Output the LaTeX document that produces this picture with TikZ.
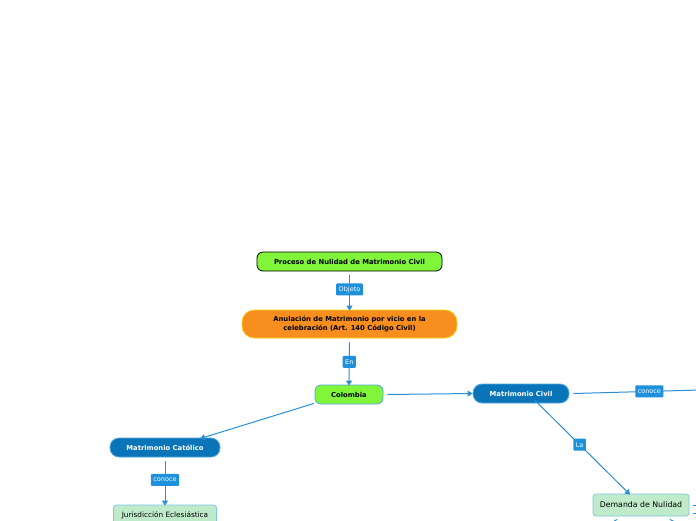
\documentclass[tikz,border=0pt]{standalone}
\usepackage{fontspec}
\setmainfont{DejaVu Sans}
\usetikzlibrary{arrows.meta}
\definecolor{lineblue}{HTML}{2B8FD6}
\definecolor{labelblue}{HTML}{1E90DC}
\definecolor{darkblue}{HTML}{0975B8}
\definecolor{darkborder}{HTML}{4FA6E0}
\definecolor{limegreen}{HTML}{80F53A}
\definecolor{orangefill}{HTML}{F78E1E}
\definecolor{yellowborder}{HTML}{F5D61B}
\definecolor{palegreen}{HTML}{C0EBCB}
\definecolor{paleborder}{HTML}{7EC4E8}
\tikzset{
  base/.style={align=center, inner sep=0pt, font=\fontsize{6.8}{8.2}\selectfont\bfseries},
  greennode/.style={base, fill=limegreen, draw=black, line width=0.8pt, rounded corners=6pt},
  colnode/.style={base, fill=limegreen, draw=darkborder, line width=0.8pt, rounded corners=6pt},
  orangenode/.style={base, fill=orangefill, draw=yellowborder, line width=0.8pt, rounded corners=12pt},
  bluenode/.style={base, fill=darkblue, draw=darkborder, line width=0.8pt, rounded corners=9pt, text=white},
  palenode/.style={align=center, inner sep=0pt, fill=palegreen, draw=paleborder, line width=0.8pt, rounded corners=3pt},
  lbl/.style={fill=labelblue, text=white, inner xsep=2.5pt, minimum height=12pt, inner ysep=0pt, rounded corners=1pt, font=\fontsize{6.5}{7}\selectfont},
  conn/.style={draw=lineblue, line width=1pt},
  arr/.style={conn, -{Triangle[width=6pt,length=5pt]}},
}
\begin{document}
\begin{tikzpicture}[x=1pt,y=-1pt]
\useasboundingbox (0,0) rectangle (696,520);
\clip (0,0) rectangle (696,520);
\node[greennode, minimum width=185pt, minimum height=19pt] (proc) at (349.5,261.5) {Proceso de Nulidad de Matrimonio Civil};
\node[orangenode, minimum width=215pt, minimum height=28pt] (anul) at (349.5,324) {Anulación de Matrimonio por vicio en la\\celebración (Art. 140 Código Civil)};
\node[colnode, minimum width=68pt, minimum height=19pt] (col) at (349,394.5) {Colombia};
\node[bluenode, minimum width=96pt, minimum height=19pt] (civ) at (521,393.5) {Matrimonio Civil};
\node[bluenode, minimum width=110pt, minimum height=19pt] (cat) at (165,447.5) {Matrimonio Católico};
\node[palenode, minimum width=103pt, minimum height=20pt, font=\fontsize{7.3}{8.5}\selectfont] (jur) at (165,515) {Jurisdicción Eclesiástica};
\node[palenode, minimum width=96pt, minimum height=22pt, font=\fontsize{7.8}{9}\selectfont] (dem) at (641,505) {Demanda de Nulidad};
\coordinate (offr) at (700,390);
\coordinate (offa) at (600,530);
\coordinate (offb) at (690,530);
\coordinate (ra) at (693,505);
\coordinate (rb) at (693,513);
\coordinate (offc) at (700,505);
\coordinate (offd) at (700,513);

\draw[arr] (proc.south) ++(0,4) -- node[lbl, pos=0.4] (l1) {Objeto} ([yshift=-1pt]anul.north);
\draw[arr] (anul.south) ++(0,4) -- node[lbl, pos=0.45] (l2) {En} ([yshift=-1pt]col.north);
\draw[arr] ([xshift=4pt]col.east) -- (civ.west);
\draw[arr] ([xshift=-35pt,yshift=1pt]col.south) -- ([xshift=35pt,yshift=-1pt]cat.north);
\draw[arr] (cat.south) ++(0,4) -- node[lbl, pos=0.42] (l3) {conoce} ([yshift=-1pt]jur.north);
\draw[conn] ([xshift=4pt]civ.east) -- node[lbl, pos=0.6] (l4) {conoce} (offr);
\draw[arr] ([xshift=14pt,yshift=3pt]civ.south) -- node[lbl, pos=0.47] (l5) {La} ([xshift=-11pt,yshift=-1pt]dem.north);
\draw[conn] ([xshift=-24pt,yshift=-3pt]dem.south) -- (offa);
\draw[conn] ([xshift=29pt,yshift=-3pt]dem.south) -- (offb);
\draw[conn] (ra) -- (offc);
\draw[conn] (rb) -- (offd);
\end{tikzpicture}
\end{document}
